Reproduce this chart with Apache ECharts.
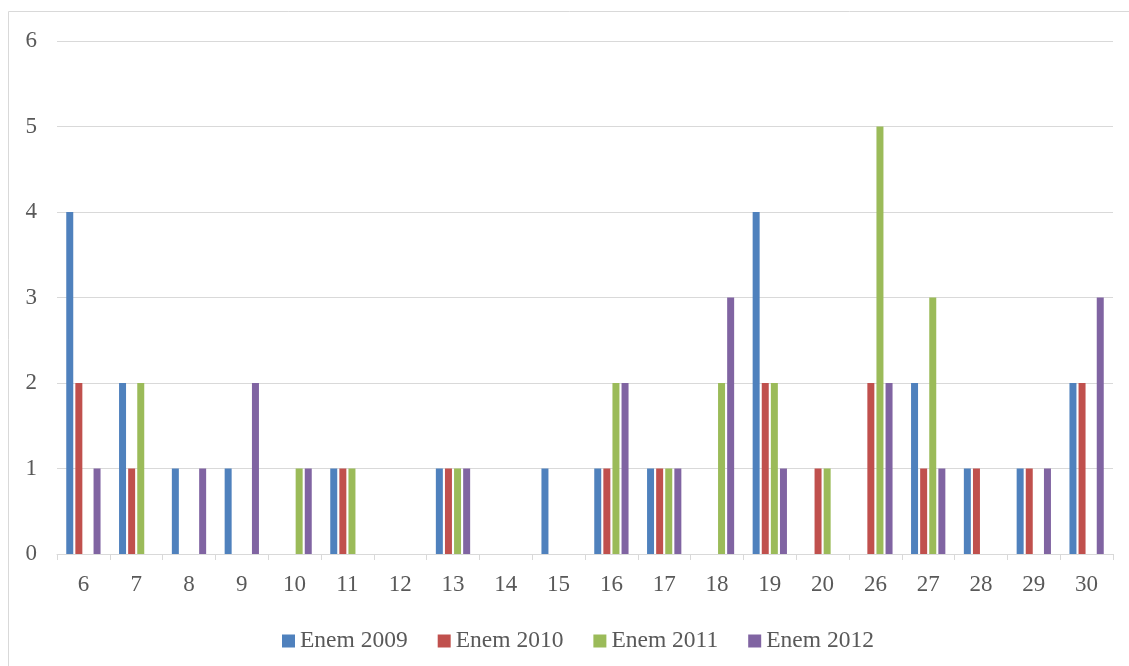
<!DOCTYPE html>
<html>
<head>
<meta charset="utf-8">
<script src="https://cdn.jsdelivr.net/npm/echarts@6/dist/echarts.min.js"></script>
<style>
html,body{margin:0;padding:0;background:#fff;}
#c{width:1129px;height:666px;}
</style>
</head>
<body>
<div id="c"></div>
<script>
const categories = ['6','7','8','9','10','11','12','13','14','15','16','17','18','19','20','26','27','28','29','30'];
const enem2009 = [4,2,1,1,0,1,0,1,0,1,1,1,0,4,0,0,2,1,1,2];
const enem2010 = [2,1,0,0,0,1,0,1,0,0,1,1,0,2,1,2,1,1,1,2];
const enem2011 = [0,2,0,0,1,1,0,1,0,0,2,1,2,2,1,5,3,0,0,0];
const enem2012 = [1,0,1,2,1,0,0,1,0,0,2,1,3,1,0,2,1,0,1,3];
const seriesNames = ['Enem 2009','Enem 2010','Enem 2011','Enem 2012'];
const colors = ['#4F81BD','#C0504D','#9BBB59','#8064A2'];

const chart = echarts.init(document.getElementById('c'), null, {renderer:'canvas'});
const font = "'Liberation Serif','Times New Roman',serif";
const mk = (name, data, i) => ({
  name, type:'bar', data,
  barWidth: 7, barGap: '30%',
  itemStyle:{color:colors[i]}
});
chart.setOption({
  animation:false,
  textStyle:{fontFamily:font},
  graphic:[{type:'rect', shape:{x:8.5,y:11.5,width:1200,height:800}, style:{fill:'none',stroke:'#d9d9d9',lineWidth:1}, silent:true}],
  grid:{left:57,right:16,top:41,bottom:112,containLabel:false},
  legend:{
    data:seriesNames, top:624, left:277,
    icon:'rect', itemWidth:13, itemHeight:13, itemGap:30,
    textStyle:{fontFamily:font,fontSize:23.5,color:'#595959'}
  },
  xAxis:{
    type:'category', data:categories,
    axisLine:{lineStyle:{color:'#d9d9d9',width:1}},
    axisTick:{show:true,length:6,lineStyle:{color:'#d9d9d9'},alignWithLabel:false},
    axisLabel:{fontFamily:font,fontSize:23,color:'#595959',margin:19,interval:0}
  },
  yAxis:{
    type:'value', min:0, max:6, interval:1,
    axisLine:{show:false}, axisTick:{show:false},
    splitLine:{lineStyle:{color:'#d9d9d9',width:1}},
    axisLabel:{fontFamily:font,fontSize:23,color:'#595959',margin:20}
  },
  series:[mk(seriesNames[0],enem2009,0),mk(seriesNames[1],enem2010,1),mk(seriesNames[2],enem2011,2),mk(seriesNames[3],enem2012,3)]
});
</script>
</body>
</html>
